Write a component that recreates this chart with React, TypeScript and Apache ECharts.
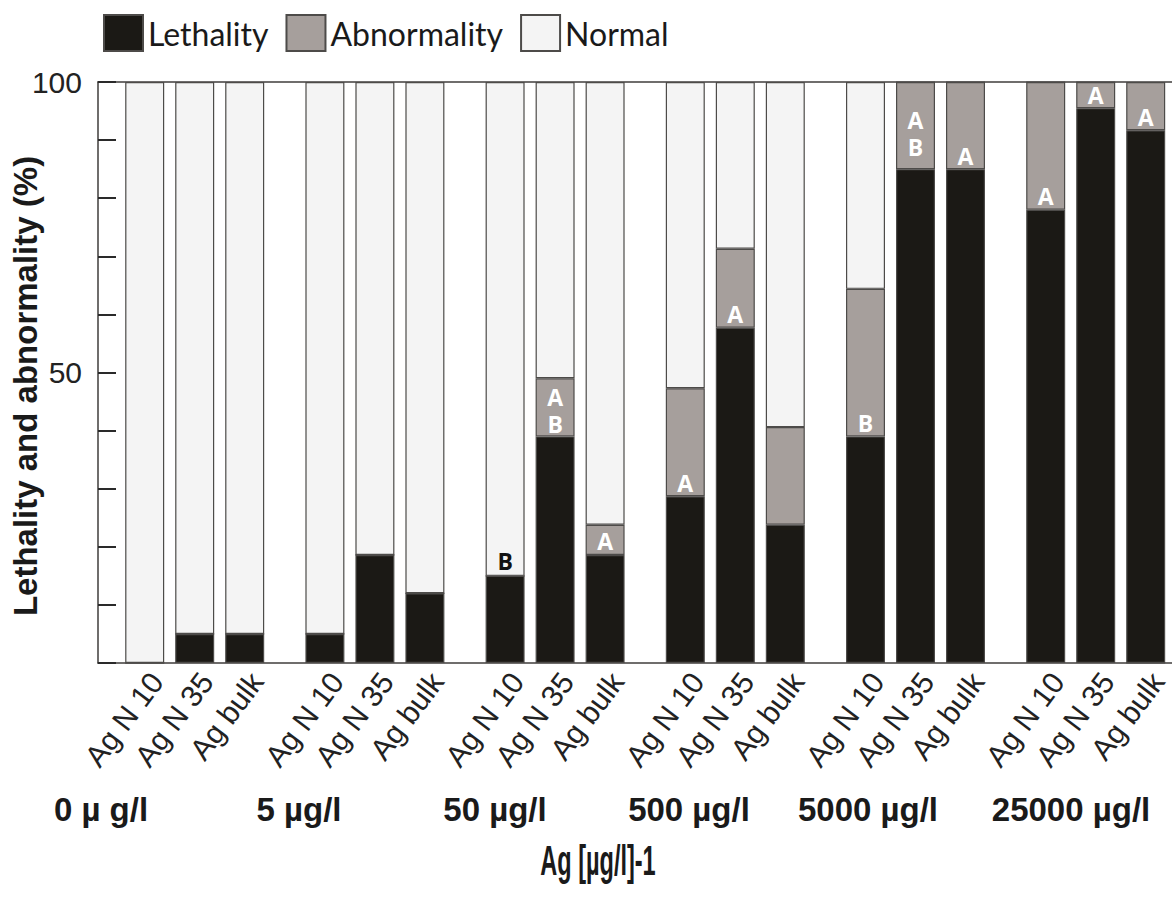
import React, { useEffect, useRef } from "react";
import * as echarts from "echarts";

// Silver exposure groups and the three particle types tested in each
const concentrations = ["0 µ g/l", "5 µg/l", "50 µg/l", "500 µg/l", "5000 µg/l", "25000 µg/l"];
const particles = ["Ag N 10", "Ag N 35", "Ag bulk"];

// Percent of embryos per outcome, in order: group by group, particle by particle
const lethality = [0, 5, 5, 5, 18.6, 12, 15, 39, 18.6, 28.7, 57.7, 23.8, 39, 85, 85, 78, 95.5, 91.7];
const abnormality = [0, 0, 0, 0, 0, 0, 0, 10, 5.2, 18.6, 13.6, 16.8, 25.4, 15, 15, 22, 4.5, 8.3];

// Significance letters: at the foot of the abnormality / normal segments,
// and a second letter sitting on top of the lethality segment
const abnormalityMarks = ["", "", "", "", "", "", "", "A", "A", "A", "A", "", "B", "A", "A", "A", "A", "A"];
const lethalityTopMarks = ["", "", "", "", "", "", "", "B", "", "", "", "", "", "B", "", "", "", ""];
const normalMarks = ["", "", "", "", "", "", "B", "", "", "", "", "", "", "", "", "", "", ""];

const yLabelValues = [50, 100];
const yTitle = "Lethality and abnormality (%)";
const xTitle = "Ag [µg/l]-1";

const COLORS = { lethality: "#1b1915", abnormality: "#a69f9c", normal: "#f4f4f4" };
const EDGE = "#4d4b49";
const AXIS = "#3f3d3b";
const SANS = "'Liberation Sans', Arial, Helvetica, sans-serif";

// Layout of the group panels along the x axis
const PLOT = { left: 98, top: 82, bottom: 663, right: 1172 };
const GROUP_FIRST_LEFT = 119.7;
const GROUP_PERIOD = 180.2;
const GROUP_WIDTH = 150;
const GROUP_LABEL_X = [101, 299, 495, 689, 868, 1071];
const LETTER_SIZE = 23;
const LETTER_STEP = 27;

export default function App() {
  const ref = useRef<HTMLDivElement>(null);

  useEffect(() => {
    if (!ref.current) return;
    const chart = echarts.init(ref.current, undefined, { renderer: "svg" });
    const plotHeight = PLOT.bottom - PLOT.top;

    const grids: any[] = [
      {
        left: PLOT.left, top: PLOT.top, width: PLOT.right - PLOT.left, height: plotHeight,
        containLabel: false, outerBoundsMode: "none",
      },
    ];
    const frameAxis = (position: string) => ({
      gridIndex: 0, type: "value", min: 0, max: 1, position,
      axisLine: { show: true, lineStyle: { color: AXIS, width: 1.5 } },
      axisTick: { show: false }, axisLabel: { show: false }, splitLine: { show: false },
    });
    const xAxes: any[] = [frameAxis("bottom"), frameAxis("top")];
    const yAxes: any[] = [
      {
        gridIndex: 0, type: "value", min: 0, max: 100, interval: 10,
        axisLine: { show: true, lineStyle: { color: AXIS, width: 1.5 } },
        axisTick: { show: true, inside: true, length: 18, lineStyle: { color: "#2a2a2a", width: 2 } },
        axisLabel: {
          margin: 16, fontFamily: SANS, fontSize: 30, color: "#222",
          formatter: (v: number) => (yLabelValues.includes(v) ? String(v) : ""),
        },
        splitLine: { show: false },
      },
    ];
    const series: any[] = [];

    const letterLabel = (text: string, color: string, position: string, distance: number) => ({
      show: text !== "", formatter: text, position, distance,
      color, fontFamily: "'Open Sans', sans-serif", fontWeight: "bold",
      fontSize: LETTER_SIZE, lineHeight: LETTER_SIZE,
    });

    concentrations.forEach((_, g) => {
      const gi = g + 1;
      grids.push({
        left: GROUP_FIRST_LEFT + GROUP_PERIOD * g, top: PLOT.top, width: GROUP_WIDTH, height: plotHeight,
        containLabel: false, outerBoundsMode: "none",
      });
      xAxes.push({
        gridIndex: gi, type: "category", data: particles,
        axisLine: { show: false }, axisTick: { show: false },
        axisLabel: {
          interval: 0, rotate: 53, margin: 4, verticalAlign: "top",
          fontFamily: SANS, fontSize: 30, color: "#222",
        },
      });
      yAxes.push({ gridIndex: gi, type: "value", min: 0, max: 100, show: false });

      const idx = particles.map((_, k) => g * particles.length + k);
      const common = {
        type: "bar", stack: "g" + g, xAxisIndex: gi + 1, yAxisIndex: gi, barWidth: 39,
      };
      // lift for the letter stacked under another one (tall abnormality segments leave more room)
      const lowerGap = (i: number) => (abnormality[i] >= 15 ? 11 : 1);

      series.push({
        ...common, name: "Lethality",
        itemStyle: { color: COLORS.lethality, borderColor: EDGE, borderWidth: 1.2 },
        data: idx.map((i) => ({
          value: lethality[i],
          label: letterLabel(lethalityTopMarks[i], "#ffffff", "top", lowerGap(i)),
        })),
      });
      series.push({
        ...common, name: "Abnormality",
        itemStyle: { color: COLORS.abnormality, borderColor: EDGE, borderWidth: 1.2 },
        data: idx.map((i) => ({
          value: abnormality[i],
          label: letterLabel(
            abnormalityMarks[i],
            "#ffffff",
            "insideBottom",
            lethalityTopMarks[i] ? lowerGap(i) + LETTER_STEP : 2
          ),
        })),
      });
      series.push({
        ...common, name: "Normal",
        itemStyle: { color: COLORS.normal, borderColor: EDGE, borderWidth: 1.2 },
        data: idx.map((i) => ({
          value: 100 - lethality[i] - abnormality[i],
          label: letterLabel(normalMarks[i], "#111111", "insideBottom", 3),
        })),
      });
    });

    const graphic: any[] = concentrations.map((c, g) => ({
      type: "text", x: GROUP_LABEL_X[g], y: 809,
      style: {
        text: c, align: "center", verticalAlign: "middle",
        font: `bold 33px ${SANS}`, fill: "#1a1a1a",
      },
    }));
    graphic.push({
      type: "text", x: 598, y: 860, scaleX: 0.56,
      style: {
        text: xTitle, align: "center", verticalAlign: "middle",
        font: `bold 42px ${SANS}`, fill: "#1a1a1a",
      },
    });
    graphic.push({
      type: "text", x: 25, y: 386, rotation: Math.PI / 2,
      style: {
        text: yTitle, align: "center", verticalAlign: "middle",
        font: `bold 33px ${SANS}`, fill: "#1a1a1a",
      },
    });

    chart.setOption({
      animation: false,
      backgroundColor: "#ffffff",
      legend: {
        left: 98, top: 9, icon: "rect", itemWidth: 39, itemHeight: 36, itemGap: 17,
        data: ["Lethality", "Abnormality", "Normal"],
        textStyle: { fontFamily: "Lato, 'Open Sans', sans-serif", fontSize: 32, color: "#1a1a1a" },
      },
      grid: grids,
      xAxis: xAxes,
      yAxis: yAxes,
      series,
      graphic,
    });

    return () => chart.dispose();
  }, []);

  return (
    <div
      ref={ref}
      style={{ position: "fixed", left: 0, top: 0, width: 1172, height: 899, background: "#fff" }}
    />
  );
}
